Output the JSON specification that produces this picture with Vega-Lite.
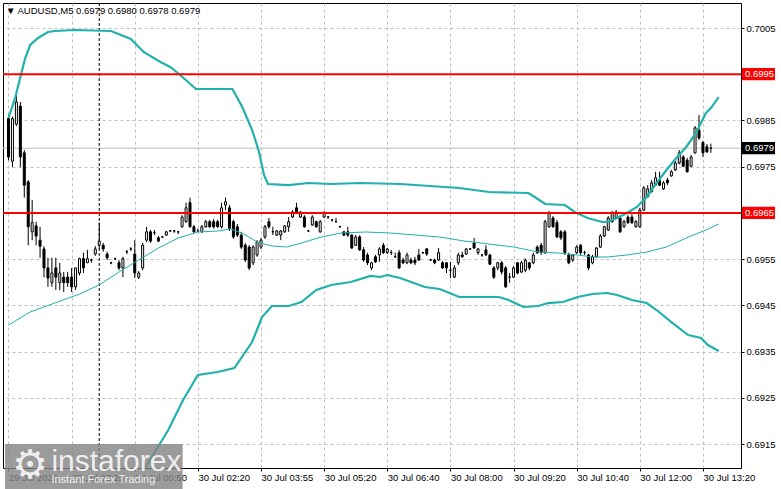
{
  "$schema": "https://vega.github.io/schema/vega-lite/v6.json",
  "width": 738,
  "height": 465,
  "autosize": {"type": "none"},
  "padding": {"left": 3, "top": 3, "right": 40, "bottom": 21},
  "background": "white",
  "title": {
    "text": "▼  AUDUSD,M5  0.6979 0.6980 0.6978 0.6979",
    "anchor": "start",
    "frame": "group",
    "offset": -13,
    "dx": 3,
    "font": "Liberation Sans",
    "fontSize": 9.5,
    "fontWeight": "normal",
    "color": "black"
  },
  "datasets": {
    "candles": [
      {"k":0,"o":0.69854,"h":0.69862,"l":0.69764,"c":0.69771},
      {"k":1,"o":0.69762,"h":0.69858,"l":0.69749,"c":0.69854},
      {"k":2,"o":0.69842,"h":0.69905,"l":0.69838,"c":0.69890},
      {"k":3,"o":0.69881,"h":0.69890,"l":0.69749,"c":0.69771},
      {"k":4,"o":0.69780,"h":0.69786,"l":0.69683,"c":0.69710},
      {"k":5,"o":0.69717,"h":0.69721,"l":0.69580,"c":0.69620},
      {"k":6,"o":0.69609,"h":0.69678,"l":0.69591,"c":0.69629},
      {"k":7,"o":0.69622,"h":0.69631,"l":0.69580,"c":0.69600},
      {"k":8,"o":0.69591,"h":0.69620,"l":0.69553,"c":0.69578},
      {"k":9,"o":0.69572,"h":0.69578,"l":0.69511,"c":0.69531},
      {"k":10,"o":0.69531,"h":0.69553,"l":0.69490,"c":0.69509},
      {"k":11,"o":0.69499,"h":0.69553,"l":0.69490,"c":0.69520},
      {"k":12,"o":0.69531,"h":0.69553,"l":0.69483,"c":0.69511},
      {"k":13,"o":0.69499,"h":0.69542,"l":0.69483,"c":0.69520},
      {"k":14,"o":0.69511,"h":0.69522,"l":0.69479,"c":0.69499},
      {"k":15,"o":0.69511,"h":0.69522,"l":0.69490,"c":0.69499},
      {"k":16,"o":0.69511,"h":0.69531,"l":0.69479,"c":0.69490},
      {"k":17,"o":0.69490,"h":0.69531,"l":0.69483,"c":0.69531},
      {"k":18,"o":0.69520,"h":0.69553,"l":0.69515,"c":0.69551},
      {"k":19,"o":0.69551,"h":0.69564,"l":0.69520,"c":0.69531},
      {"k":20,"o":0.69542,"h":0.69570,"l":0.69542,"c":0.69551},
      {"k":21,"o":0.69548,"h":0.69551,"l":0.69542,"c":0.69548},
      {"k":22,"o":0.69561,"h":0.69578,"l":0.69557,"c":0.69572},
      {"k":23,"o":0.69580,"h":0.69629,"l":0.69572,"c":0.69589},
      {"k":24,"o":0.69580,"h":0.69585,"l":0.69566,"c":0.69572},
      {"k":25,"o":0.69561,"h":0.69566,"l":0.69548,"c":0.69553},
      {"k":26,"o":0.69542,"h":0.69544,"l":0.69539,"c":0.69542},
      {"k":27,"o":0.69551,"h":0.69553,"l":0.69548,"c":0.69551},
      {"k":28,"o":0.69542,"h":0.69548,"l":0.69526,"c":0.69531},
      {"k":29,"o":0.69531,"h":0.69555,"l":0.69511,"c":0.69551},
      {"k":30,"o":0.69566,"h":0.69570,"l":0.69561,"c":0.69566},
      {"k":31,"o":0.69572,"h":0.69576,"l":0.69568,"c":0.69572},
      {"k":32,"o":0.69561,"h":0.69591,"l":0.69509,"c":0.69520},
      {"k":33,"o":0.69511,"h":0.69524,"l":0.69507,"c":0.69520},
      {"k":34,"o":0.69531,"h":0.69585,"l":0.69526,"c":0.69580},
      {"k":35,"o":0.69591,"h":0.69620,"l":0.69587,"c":0.69609},
      {"k":36,"o":0.69609,"h":0.69613,"l":0.69585,"c":0.69589},
      {"k":37,"o":0.69607,"h":0.69613,"l":0.69602,"c":0.69607},
      {"k":38,"o":0.69596,"h":0.69600,"l":0.69587,"c":0.69589},
      {"k":39,"o":0.69598,"h":0.69600,"l":0.69596,"c":0.69598},
      {"k":40,"o":0.69602,"h":0.69611,"l":0.69600,"c":0.69609},
      {"k":41,"o":0.69611,"h":0.69613,"l":0.69609,"c":0.69611},
      {"k":42,"o":0.69611,"h":0.69613,"l":0.69607,"c":0.69611},
      {"k":43,"o":0.69609,"h":0.69611,"l":0.69604,"c":0.69609},
      {"k":44,"o":0.69620,"h":0.69645,"l":0.69618,"c":0.69641},
      {"k":45,"o":0.69631,"h":0.69672,"l":0.69629,"c":0.69661},
      {"k":46,"o":0.69672,"h":0.69683,"l":0.69618,"c":0.69620},
      {"k":47,"o":0.69620,"h":0.69624,"l":0.69607,"c":0.69609},
      {"k":48,"o":0.69611,"h":0.69616,"l":0.69609,"c":0.69611},
      {"k":49,"o":0.69609,"h":0.69624,"l":0.69607,"c":0.69620},
      {"k":50,"o":0.69620,"h":0.69635,"l":0.69618,"c":0.69631},
      {"k":51,"o":0.69631,"h":0.69635,"l":0.69618,"c":0.69620},
      {"k":52,"o":0.69631,"h":0.69637,"l":0.69616,"c":0.69620},
      {"k":53,"o":0.69631,"h":0.69635,"l":0.69618,"c":0.69620},
      {"k":54,"o":0.69620,"h":0.69672,"l":0.69616,"c":0.69661},
      {"k":55,"o":0.69667,"h":0.69683,"l":0.69656,"c":0.69674},
      {"k":56,"o":0.69661,"h":0.69667,"l":0.69611,"c":0.69616},
      {"k":57,"o":0.69631,"h":0.69635,"l":0.69594,"c":0.69598},
      {"k":58,"o":0.69620,"h":0.69626,"l":0.69598,"c":0.69602},
      {"k":59,"o":0.69602,"h":0.69609,"l":0.69572,"c":0.69576},
      {"k":60,"o":0.69580,"h":0.69585,"l":0.69544,"c":0.69548},
      {"k":61,"o":0.69576,"h":0.69580,"l":0.69526,"c":0.69531},
      {"k":62,"o":0.69542,"h":0.69580,"l":0.69537,"c":0.69576},
      {"k":63,"o":0.69559,"h":0.69591,"l":0.69555,"c":0.69587},
      {"k":64,"o":0.69576,"h":0.69596,"l":0.69572,"c":0.69591},
      {"k":65,"o":0.69598,"h":0.69624,"l":0.69594,"c":0.69620},
      {"k":66,"o":0.69631,"h":0.69639,"l":0.69616,"c":0.69620},
      {"k":67,"o":0.69609,"h":0.69620,"l":0.69602,"c":0.69609},
      {"k":68,"o":0.69602,"h":0.69613,"l":0.69600,"c":0.69611},
      {"k":69,"o":0.69602,"h":0.69613,"l":0.69591,"c":0.69611},
      {"k":70,"o":0.69609,"h":0.69624,"l":0.69607,"c":0.69622},
      {"k":71,"o":0.69620,"h":0.69641,"l":0.69609,"c":0.69631},
      {"k":72,"o":0.69641,"h":0.69656,"l":0.69639,"c":0.69652},
      {"k":73,"o":0.69661,"h":0.69672,"l":0.69650,"c":0.69652},
      {"k":74,"o":0.69641,"h":0.69654,"l":0.69639,"c":0.69652},
      {"k":75,"o":0.69641,"h":0.69645,"l":0.69618,"c":0.69620},
      {"k":76,"o":0.69611,"h":0.69613,"l":0.69609,"c":0.69611},
      {"k":77,"o":0.69624,"h":0.69645,"l":0.69622,"c":0.69641},
      {"k":78,"o":0.69631,"h":0.69633,"l":0.69618,"c":0.69620},
      {"k":79,"o":0.69609,"h":0.69635,"l":0.69607,"c":0.69631},
      {"k":80,"o":0.69641,"h":0.69654,"l":0.69639,"c":0.69650},
      {"k":81,"o":0.69641,"h":0.69643,"l":0.69637,"c":0.69641},
      {"k":82,"o":0.69635,"h":0.69637,"l":0.69631,"c":0.69635},
      {"k":83,"o":0.69631,"h":0.69639,"l":0.69629,"c":0.69631},
      {"k":84,"o":0.69620,"h":0.69622,"l":0.69618,"c":0.69620},
      {"k":85,"o":0.69609,"h":0.69611,"l":0.69600,"c":0.69602},
      {"k":86,"o":0.69609,"h":0.69620,"l":0.69598,"c":0.69602},
      {"k":87,"o":0.69602,"h":0.69604,"l":0.69572,"c":0.69574},
      {"k":88,"o":0.69580,"h":0.69602,"l":0.69578,"c":0.69598},
      {"k":89,"o":0.69598,"h":0.69602,"l":0.69568,"c":0.69570},
      {"k":90,"o":0.69570,"h":0.69576,"l":0.69544,"c":0.69548},
      {"k":91,"o":0.69559,"h":0.69564,"l":0.69537,"c":0.69542},
      {"k":92,"o":0.69531,"h":0.69544,"l":0.69526,"c":0.69542},
      {"k":93,"o":0.69555,"h":0.69559,"l":0.69542,"c":0.69544},
      {"k":94,"o":0.69559,"h":0.69576,"l":0.69544,"c":0.69572},
      {"k":95,"o":0.69580,"h":0.69585,"l":0.69561,"c":0.69564},
      {"k":96,"o":0.69564,"h":0.69574,"l":0.69561,"c":0.69572},
      {"k":97,"o":0.69564,"h":0.69570,"l":0.69559,"c":0.69564},
      {"k":98,"o":0.69555,"h":0.69564,"l":0.69553,"c":0.69555},
      {"k":99,"o":0.69564,"h":0.69570,"l":0.69529,"c":0.69531},
      {"k":100,"o":0.69548,"h":0.69553,"l":0.69539,"c":0.69542},
      {"k":101,"o":0.69542,"h":0.69564,"l":0.69539,"c":0.69559},
      {"k":102,"o":0.69548,"h":0.69553,"l":0.69539,"c":0.69542},
      {"k":103,"o":0.69548,"h":0.69555,"l":0.69537,"c":0.69542},
      {"k":104,"o":0.69559,"h":0.69572,"l":0.69546,"c":0.69548},
      {"k":105,"o":0.69564,"h":0.69566,"l":0.69561,"c":0.69564},
      {"k":106,"o":0.69572,"h":0.69574,"l":0.69557,"c":0.69561},
      {"k":107,"o":0.69548,"h":0.69551,"l":0.69546,"c":0.69548},
      {"k":108,"o":0.69548,"h":0.69551,"l":0.69539,"c":0.69542},
      {"k":109,"o":0.69548,"h":0.69574,"l":0.69546,"c":0.69564},
      {"k":110,"o":0.69542,"h":0.69546,"l":0.69529,"c":0.69531},
      {"k":111,"o":0.69542,"h":0.69544,"l":0.69520,"c":0.69531},
      {"k":112,"o":0.69526,"h":0.69544,"l":0.69509,"c":0.69526},
      {"k":113,"o":0.69511,"h":0.69537,"l":0.69509,"c":0.69531},
      {"k":114,"o":0.69542,"h":0.69564,"l":0.69537,"c":0.69559},
      {"k":115,"o":0.69559,"h":0.69566,"l":0.69553,"c":0.69555},
      {"k":116,"o":0.69561,"h":0.69574,"l":0.69559,"c":0.69572},
      {"k":117,"o":0.69572,"h":0.69574,"l":0.69570,"c":0.69572},
      {"k":118,"o":0.69585,"h":0.69596,"l":0.69572,"c":0.69574},
      {"k":119,"o":0.69564,"h":0.69574,"l":0.69559,"c":0.69572},
      {"k":120,"o":0.69559,"h":0.69561,"l":0.69555,"c":0.69559},
      {"k":121,"o":0.69570,"h":0.69580,"l":0.69557,"c":0.69559},
      {"k":122,"o":0.69559,"h":0.69561,"l":0.69537,"c":0.69539},
      {"k":123,"o":0.69531,"h":0.69535,"l":0.69507,"c":0.69511},
      {"k":124,"o":0.69531,"h":0.69544,"l":0.69526,"c":0.69542},
      {"k":125,"o":0.69542,"h":0.69546,"l":0.69517,"c":0.69522},
      {"k":126,"o":0.69531,"h":0.69535,"l":0.69488,"c":0.69490},
      {"k":127,"o":0.69511,"h":0.69520,"l":0.69499,"c":0.69511},
      {"k":128,"o":0.69511,"h":0.69535,"l":0.69509,"c":0.69531},
      {"k":129,"o":0.69542,"h":0.69544,"l":0.69517,"c":0.69520},
      {"k":130,"o":0.69522,"h":0.69546,"l":0.69520,"c":0.69542},
      {"k":131,"o":0.69526,"h":0.69551,"l":0.69522,"c":0.69548},
      {"k":132,"o":0.69542,"h":0.69544,"l":0.69526,"c":0.69531},
      {"k":133,"o":0.69542,"h":0.69564,"l":0.69539,"c":0.69559},
      {"k":134,"o":0.69576,"h":0.69580,"l":0.69561,"c":0.69564},
      {"k":135,"o":0.69580,"h":0.69585,"l":0.69559,"c":0.69564},
      {"k":136,"o":0.69564,"h":0.69635,"l":0.69561,"c":0.69631},
      {"k":137,"o":0.69620,"h":0.69654,"l":0.69618,"c":0.69650},
      {"k":138,"o":0.69639,"h":0.69643,"l":0.69618,"c":0.69620},
      {"k":139,"o":0.69629,"h":0.69635,"l":0.69596,"c":0.69598},
      {"k":140,"o":0.69609,"h":0.69613,"l":0.69591,"c":0.69596},
      {"k":141,"o":0.69609,"h":0.69613,"l":0.69559,"c":0.69564},
      {"k":142,"o":0.69559,"h":0.69564,"l":0.69539,"c":0.69542},
      {"k":143,"o":0.69548,"h":0.69561,"l":0.69544,"c":0.69559},
      {"k":144,"o":0.69564,"h":0.69580,"l":0.69561,"c":0.69576},
      {"k":145,"o":0.69580,"h":0.69583,"l":0.69559,"c":0.69564},
      {"k":146,"o":0.69564,"h":0.69568,"l":0.69559,"c":0.69564},
      {"k":147,"o":0.69559,"h":0.69561,"l":0.69526,"c":0.69531},
      {"k":148,"o":0.69542,"h":0.69559,"l":0.69539,"c":0.69555},
      {"k":149,"o":0.69555,"h":0.69576,"l":0.69553,"c":0.69574},
      {"k":150,"o":0.69576,"h":0.69604,"l":0.69574,"c":0.69600},
      {"k":151,"o":0.69600,"h":0.69622,"l":0.69598,"c":0.69620},
      {"k":152,"o":0.69613,"h":0.69643,"l":0.69611,"c":0.69639},
      {"k":153,"o":0.69631,"h":0.69654,"l":0.69629,"c":0.69650},
      {"k":154,"o":0.69639,"h":0.69656,"l":0.69637,"c":0.69652},
      {"k":155,"o":0.69639,"h":0.69645,"l":0.69607,"c":0.69609},
      {"k":156,"o":0.69620,"h":0.69635,"l":0.69618,"c":0.69631},
      {"k":157,"o":0.69641,"h":0.69645,"l":0.69626,"c":0.69629},
      {"k":158,"o":0.69641,"h":0.69647,"l":0.69626,"c":0.69629},
      {"k":159,"o":0.69620,"h":0.69635,"l":0.69618,"c":0.69631},
      {"k":160,"o":0.69620,"h":0.69661,"l":0.69618,"c":0.69656},
      {"k":161,"o":0.69656,"h":0.69708,"l":0.69654,"c":0.69704},
      {"k":162,"o":0.69685,"h":0.69710,"l":0.69683,"c":0.69702},
      {"k":163,"o":0.69696,"h":0.69721,"l":0.69694,"c":0.69715},
      {"k":164,"o":0.69710,"h":0.69739,"l":0.69708,"c":0.69726},
      {"k":165,"o":0.69721,"h":0.69739,"l":0.69708,"c":0.69710},
      {"k":166,"o":0.69702,"h":0.69719,"l":0.69700,"c":0.69715},
      {"k":167,"o":0.69721,"h":0.69726,"l":0.69710,"c":0.69715},
      {"k":168,"o":0.69730,"h":0.69743,"l":0.69728,"c":0.69739},
      {"k":169,"o":0.69743,"h":0.69762,"l":0.69741,"c":0.69758},
      {"k":170,"o":0.69758,"h":0.69786,"l":0.69755,"c":0.69780},
      {"k":171,"o":0.69771,"h":0.69775,"l":0.69749,"c":0.69751},
      {"k":172,"o":0.69764,"h":0.69769,"l":0.69737,"c":0.69739},
      {"k":173,"o":0.69751,"h":0.69775,"l":0.69749,"c":0.69771},
      {"k":174,"o":0.69780,"h":0.69838,"l":0.69778,"c":0.69834},
      {"k":175,"o":0.69829,"h":0.69862,"l":0.69808,"c":0.69812},
      {"k":176,"o":0.69802,"h":0.69806,"l":0.69771,"c":0.69780},
      {"k":177,"o":0.69793,"h":0.69799,"l":0.69780,"c":0.69782},
      {"k":178,"o":0.69790,"h":0.69800,"l":0.69780,"c":0.69790}
    ],
    "bands": [
      {"k":0,"b":"upper","v":0.698553},{"k":1.75,"b":"upper","v":0.699007},{"k":3,"b":"upper","v":0.69944},
      {"k":4.25,"b":"upper","v":0.699851},{"k":5.5,"b":"upper","v":0.700132},{"k":7.5,"b":"upper","v":0.700284},
      {"k":10,"b":"upper","v":0.700414},{"k":11.75,"b":"upper","v":0.700435},{"k":16.75,"b":"upper","v":0.700457},
      {"k":26,"b":"upper","v":0.700435},{"k":31,"b":"upper","v":0.700262},{"k":34.25,"b":"upper","v":0.699981},
      {"k":38.5,"b":"upper","v":0.699765},{"k":41,"b":"upper","v":0.699656},{"k":43.5,"b":"upper","v":0.699483},
      {"k":47.5,"b":"upper","v":0.69918},{"k":56.75,"b":"upper","v":0.69918},{"k":59.25,"b":"upper","v":0.698791},
      {"k":61.75,"b":"upper","v":0.698293},{"k":63.5,"b":"upper","v":0.697817},{"k":64.75,"b":"upper","v":0.69732},
      {"k":65.75,"b":"upper","v":0.697125},{"k":71,"b":"upper","v":0.697103},{"k":76,"b":"upper","v":0.697147},
      {"k":81.75,"b":"upper","v":0.697125},{"k":89.25,"b":"upper","v":0.697147},{"k":99.25,"b":"upper","v":0.697125},
      {"k":106.75,"b":"upper","v":0.697082},{"k":114.25,"b":"upper","v":0.697039},{"k":121.75,"b":"upper","v":0.696952},
      {"k":131.75,"b":"upper","v":0.69693},{"k":133.75,"b":"upper","v":0.696822},{"k":136,"b":"upper","v":0.696692},
      {"k":141,"b":"upper","v":0.696671},{"k":143.5,"b":"upper","v":0.696519},{"k":146.75,"b":"upper","v":0.69639},
      {"k":150.5,"b":"upper","v":0.696303},{"k":151.75,"b":"upper","v":0.696303},{"k":154.25,"b":"upper","v":0.69639},
      {"k":156.75,"b":"upper","v":0.696498},{"k":159.25,"b":"upper","v":0.696628},{"k":161.75,"b":"upper","v":0.696844},
      {"k":164.25,"b":"upper","v":0.697147},{"k":166.75,"b":"upper","v":0.697428},{"k":169.25,"b":"upper","v":0.697688},
      {"k":171.75,"b":"upper","v":0.697926},{"k":174.25,"b":"upper","v":0.698229},{"k":176.75,"b":"upper","v":0.698661},
      {"k":178,"b":"upper","v":0.698769},{"k":180,"b":"upper","v":0.699007},
      {"k":0,"b":"middle","v":0.694075},{"k":5.5,"b":"middle","v":0.694356},{"k":11.75,"b":"middle","v":0.69455},
      {"k":18,"b":"middle","v":0.694745},{"k":23,"b":"middle","v":0.69494},{"k":28,"b":"middle","v":0.695221},
      {"k":33,"b":"middle","v":0.695481},{"k":38,"b":"middle","v":0.69574},{"k":43,"b":"middle","v":0.695957},
      {"k":48,"b":"middle","v":0.696087},{"k":53,"b":"middle","v":0.696108},{"k":56.25,"b":"middle","v":0.696152},
      {"k":59.25,"b":"middle","v":0.696065},{"k":63,"b":"middle","v":0.69587},{"k":66.75,"b":"middle","v":0.695784},
      {"k":70.5,"b":"middle","v":0.695762},{"k":74.25,"b":"middle","v":0.695849},{"k":79.25,"b":"middle","v":0.695978},
      {"k":84.25,"b":"middle","v":0.696065},{"k":90.5,"b":"middle","v":0.696087},{"k":96.75,"b":"middle","v":0.696065},
      {"k":103,"b":"middle","v":0.696022},{"k":109.25,"b":"middle","v":0.695978},{"k":115.5,"b":"middle","v":0.695892},
      {"k":121.75,"b":"middle","v":0.695827},{"k":128,"b":"middle","v":0.695762},{"k":134.25,"b":"middle","v":0.695654},
      {"k":139.25,"b":"middle","v":0.695632},{"k":144.25,"b":"middle","v":0.695589},{"k":148,"b":"middle","v":0.695546},
      {"k":151.75,"b":"middle","v":0.695546},{"k":156.75,"b":"middle","v":0.695589},{"k":161.75,"b":"middle","v":0.695654},
      {"k":166.75,"b":"middle","v":0.695762},{"k":171.75,"b":"middle","v":0.695957},{"k":176.75,"b":"middle","v":0.69613},
      {"k":180,"b":"middle","v":0.69626},
      {"k":0,"b":"lower","v":0.689596},{"k":5.5,"b":"lower","v":0.688579},{"k":11.75,"b":"lower","v":0.688666},
      {"k":18,"b":"lower","v":0.689033},{"k":24.25,"b":"lower","v":0.689509},{"k":29.25,"b":"lower","v":0.690072},
      {"k":34.75,"b":"lower","v":0.691002},{"k":40.5,"b":"lower","v":0.691803},{"k":44.25,"b":"lower","v":0.692452},
      {"k":48,"b":"lower","v":0.692993},{"k":53,"b":"lower","v":0.693058},{"k":57.25,"b":"lower","v":0.693144},
      {"k":61.75,"b":"lower","v":0.693707},{"k":64.25,"b":"lower","v":0.694248},{"k":66.75,"b":"lower","v":0.694486},
      {"k":71,"b":"lower","v":0.694486},{"k":74.25,"b":"lower","v":0.694572},{"k":78,"b":"lower","v":0.694832},
      {"k":81.75,"b":"lower","v":0.69494},{"k":86.75,"b":"lower","v":0.695005},{"k":91.75,"b":"lower","v":0.695135},
      {"k":94.25,"b":"lower","v":0.695113},{"k":96,"b":"lower","v":0.695156},{"k":99.25,"b":"lower","v":0.695091},
      {"k":105.5,"b":"lower","v":0.694897},{"k":109.25,"b":"lower","v":0.694853},{"k":114.25,"b":"lower","v":0.69468},
      {"k":124.25,"b":"lower","v":0.69468},{"k":126.75,"b":"lower","v":0.694615},{"k":130.5,"b":"lower","v":0.694464},
      {"k":134.25,"b":"lower","v":0.694486},{"k":136.75,"b":"lower","v":0.69455},{"k":140.5,"b":"lower","v":0.694572},
      {"k":144.25,"b":"lower","v":0.69468},{"k":148,"b":"lower","v":0.694745},{"k":151.75,"b":"lower","v":0.694767},
      {"k":154.25,"b":"lower","v":0.694724},{"k":158,"b":"lower","v":0.694615},{"k":161.75,"b":"lower","v":0.69455},
      {"k":164.25,"b":"lower","v":0.694399},{"k":168,"b":"lower","v":0.694139},{"k":172.25,"b":"lower","v":0.693858},
      {"k":175.5,"b":"lower","v":0.693793},{"k":177.25,"b":"lower","v":0.693642},{"k":180,"b":"lower","v":0.693512}
    ],
    "levels": [{"p": 0.6995}, {"p": 0.6965}],
    "bid": [{"p": 0.6979}],
    "separators": [{"k": 23}],
    "tags": [
      {"p": 0.6995, "kind": "level", "label": "0.6995"},
      {"p": 0.6965, "kind": "level", "label": "0.6965"},
      {"p": 0.6979, "kind": "bid", "label": "0.6979"}
    ],
    "badge": [{"name": "instaforex", "slogan": "Instant Forex Trading"}]
  },
  "layer": [
    {
      "data": {"name": "bid"},
      "mark": {"type": "rule", "color": "#c0c0c0", "strokeWidth": 1},
      "encoding": {
        "y": {"field": "p", "type": "quantitative", "scale": {"domain": [0.690981, 0.701041], "nice": false, "zero": false}}
      }
    },
    {
      "data": {"name": "separators"},
      "mark": {"type": "rule", "color": "black", "strokeWidth": 1, "strokeDash": [3, 2]},
      "encoding": {
        "x": {"field": "k", "type": "quantitative", "scale": {"domain": [-0.125, 184.375], "nice": false, "zero": false}}
      }
    },
    {
      "data": {"name": "candles"},
      "mark": {"type": "rule", "color": "black", "strokeWidth": 1},
      "encoding": {
        "x": {
          "field": "k",
          "type": "quantitative",
          "scale": {"domain": [-0.125, 184.375], "nice": false, "zero": false},
          "axis": {
            "values": [0, 8, 16, 24, 32, 40, 48, 56, 64, 72, 80, 88, 96, 104, 112, 120, 128, 136, 144, 152, 160, 168, 176],
            "labelExpr": "datum.value % 16 === 0 ? ['29 Jul 2020','29 Jul 23:25','30 Jul 00:50','30 Jul 02:20','30 Jul 03:55','30 Jul 05:20','30 Jul 06:40','30 Jul 08:00','30 Jul 09:20','30 Jul 10:40','30 Jul 12:00','30 Jul 13:20'][datum.value / 16] : ''",
            "labelAlign": "left",
            "labelFlush": false,
            "labelOverlap": false,
            "labelBound": false,
            "labelPadding": 1,
            "tickSize": 3,
            "title": null
          }
        },
        "y": {
          "field": "l",
          "type": "quantitative",
          "scale": {"domain": [0.690981, 0.701041], "nice": false, "zero": false},
          "axis": {
            "orient": "right",
            "values": [0.6915, 0.6925, 0.6935, 0.6945, 0.6955, 0.6975, 0.6985, 0.7005],
            "format": ".4f",
            "tickSize": 3,
            "labelPadding": 2,
            "labelOverlap": false,
            "labelFlush": false,
            "title": null
          }
        },
        "y2": {"field": "h"}
      }
    },
    {
      "data": {"name": "candles"},
      "mark": {"type": "bar", "width": 2, "stroke": "black", "strokeWidth": 1},
      "encoding": {
        "x": {"field": "k", "type": "quantitative", "scale": {"domain": [-0.125, 184.375], "nice": false, "zero": false}},
        "y": {"field": "o", "type": "quantitative", "scale": {"domain": [0.690981, 0.701041], "nice": false, "zero": false}},
        "y2": {"field": "c"},
        "fill": {"condition": {"test": "datum.c >= datum.o", "value": "white"}, "value": "black"}
      }
    },
    {
      "data": {"name": "bands"},
      "transform": [{"filter": "datum.b !== 'middle'"}],
      "mark": {"type": "line", "color": "#20b2aa", "strokeWidth": 2.2, "clip": true},
      "encoding": {
        "x": {"field": "k", "type": "quantitative", "scale": {"domain": [-0.125, 184.375], "nice": false, "zero": false}},
        "y": {"field": "v", "type": "quantitative", "scale": {"domain": [0.690981, 0.701041], "nice": false, "zero": false}},
        "detail": {"field": "b", "type": "nominal"}
      }
    },
    {
      "data": {"name": "bands"},
      "transform": [{"filter": "datum.b === 'middle'"}],
      "mark": {"type": "line", "color": "#20b2aa", "strokeWidth": 1, "clip": true},
      "encoding": {
        "x": {"field": "k", "type": "quantitative", "scale": {"domain": [-0.125, 184.375], "nice": false, "zero": false}},
        "y": {"field": "v", "type": "quantitative", "scale": {"domain": [0.690981, 0.701041], "nice": false, "zero": false}}
      }
    },
    {
      "data": {"name": "levels"},
      "mark": {"type": "rule", "color": "#ff0000", "strokeWidth": 2},
      "encoding": {
        "y": {"field": "p", "type": "quantitative", "scale": {"domain": [0.690981, 0.701041], "nice": false, "zero": false}}
      }
    },
    {
      "data": {"name": "tags"},
      "mark": {"type": "point", "shape": "M0.06,-0.36 L2,-0.36 L2,0.36 L0.06,0.36 Z", "size": 1156, "filled": true, "opacity": 1, "strokeWidth": 0},
      "encoding": {
        "x": {"value": "width"},
        "y": {"field": "p", "type": "quantitative", "scale": {"domain": [0.690981, 0.701041], "nice": false, "zero": false}},
        "color": {
          "field": "kind",
          "type": "nominal",
          "scale": {"domain": ["level", "bid"], "range": ["#ff0000", "#000000"]},
          "legend": null
        }
      }
    },
    {
      "data": {"name": "tags"},
      "mark": {"type": "text", "align": "left", "baseline": "middle", "dx": 4, "color": "white", "font": "Liberation Sans", "fontSize": 9.5},
      "encoding": {
        "x": {"value": "width"},
        "y": {"field": "p", "type": "quantitative", "scale": {"domain": [0.690981, 0.701041], "nice": false, "zero": false}},
        "text": {"field": "label"}
      }
    },
    {
      "data": {"name": "badge"},
      "mark": {"type": "rect", "color": "#858585", "opacity": 0.82},
      "encoding": {
        "x": {"datum": -0.875, "type": "quantitative", "scale": {"domain": [-0.125, 184.375], "nice": false, "zero": false}},
        "x2": {"datum": 44.125},
        "y": {"datum": 0.6915, "type": "quantitative", "scale": {"domain": [0.690981, 0.701041], "nice": false, "zero": false}},
        "y2": {"datum": 0.690526}
      }
    },
    {
      "data": {"name": "badge"},
      "mark": {"type": "text", "align": "center", "baseline": "middle", "color": "#eeeeee", "font": "DejaVu Sans", "fontSize": 40},
      "encoding": {
        "x": {"datum": 5.5, "type": "quantitative", "scale": {"domain": [-0.125, 184.375], "nice": false, "zero": false}},
        "y": {"datum": 0.691024, "type": "quantitative", "scale": {"domain": [0.690981, 0.701041], "nice": false, "zero": false}},
        "text": {"value": "⚙"}
      }
    },
    {
      "data": {"name": "badge"},
      "mark": {"type": "text", "align": "left", "baseline": "alphabetic", "color": "#eeeeee", "font": "Liberation Sans", "fontSize": 30},
      "encoding": {
        "x": {"datum": 10.875, "type": "quantitative", "scale": {"domain": [-0.125, 184.375], "nice": false, "zero": false}},
        "y": {"datum": 0.690916, "type": "quantitative", "scale": {"domain": [0.690981, 0.701041], "nice": false, "zero": false}},
        "text": {"field": "name"}
      }
    },
    {
      "data": {"name": "badge"},
      "mark": {"type": "text", "align": "left", "baseline": "alphabetic", "color": "#eeeeee", "font": "Liberation Sans", "fontSize": 11},
      "encoding": {
        "x": {"datum": 10.875, "type": "quantitative", "scale": {"domain": [-0.125, 184.375], "nice": false, "zero": false}},
        "y": {"datum": 0.690655, "type": "quantitative", "scale": {"domain": [0.690981, 0.701041], "nice": false, "zero": false}},
        "text": {"field": "slogan"}
      }
    }
  ],
  "config": {
    "view": {"stroke": "black", "strokeWidth": 1},
    "font": "Liberation Sans",
    "axis": {
      "labelFont": "Liberation Sans",
      "labelFontSize": 9.5,
      "labelColor": "black",
      "gridColor": "#c0c0c0",
      "gridDash": [3, 3],
      "gridWidth": 1,
      "domain": false,
      "tickColor": "black",
      "titleFontSize": 0
    }
  }
}
